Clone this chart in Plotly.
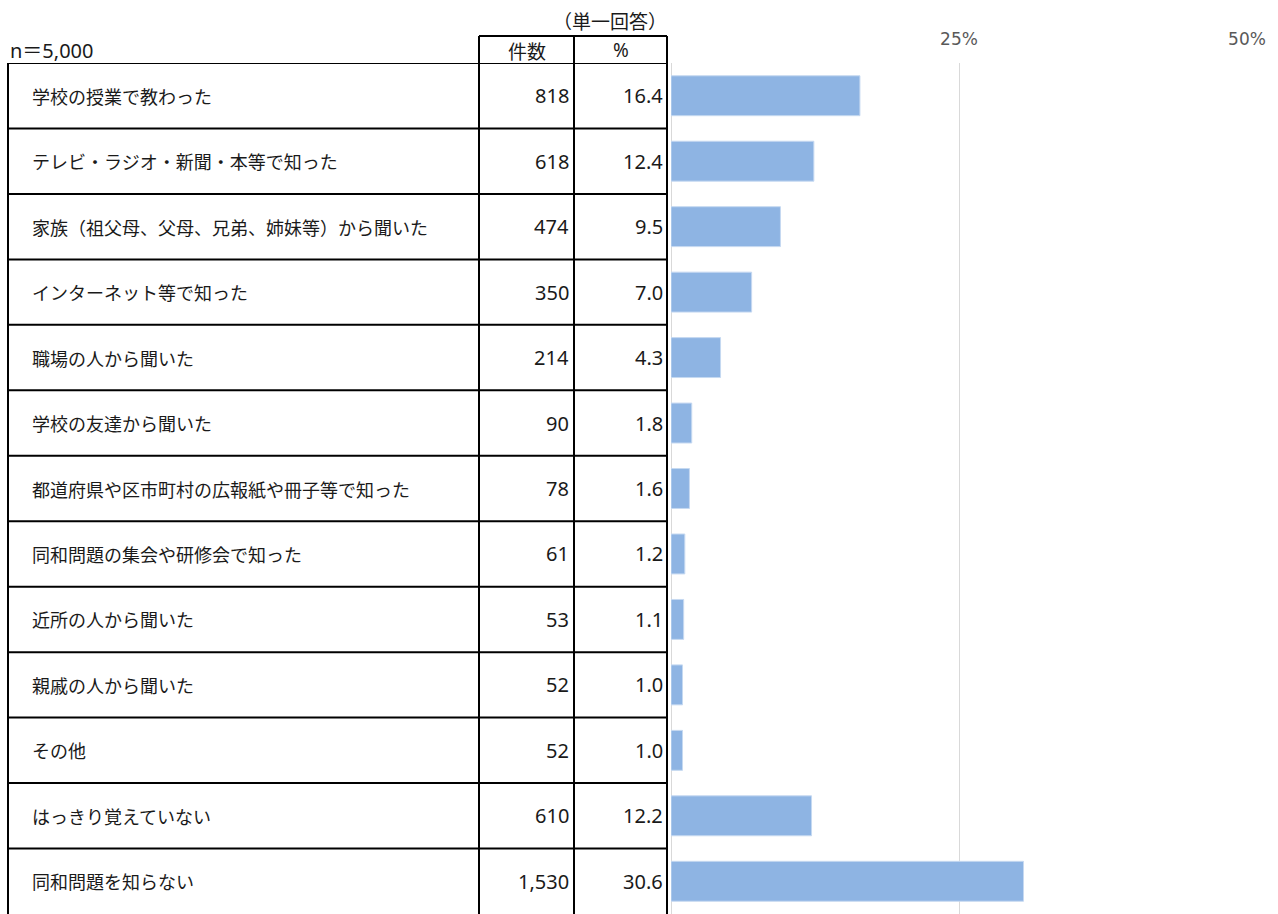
import plotly.graph_objects as go

# data
labels = ["学校の授業で教わった", "テレビ・ラジオ・新聞・本等で知った",
          "家族（祖父母、父母、兄弟、姉妹等）から聞いた", "インターネット等で知った",
          "職場の人から聞いた", "学校の友達から聞いた",
          "都道府県や区市町村の広報紙や冊子等で知った", "同和問題の集会や研修会で知った",
          "近所の人から聞いた", "親戚の人から聞いた", "その他",
          "はっきり覚えていない", "同和問題を知らない"]
counts = ["818", "618", "474", "350", "214", "90", "78", "61", "53", "52", "52", "610", "1,530"]
percents = [16.4, 12.4, 9.5, 7.0, 4.3, 1.8, 1.6, 1.2, 1.1, 1.0, 1.0, 12.2, 30.6]
tick_vals = [25, 50]
tick_text = ["25%", "50%"]

W, H = 1278, 914
JP = "Noto Sans CJK JP, Meiryo, sans-serif"
NUM = "Noto Sans, Noto Sans CJK JP, sans-serif"
TXT = "#1a1a1a"
PLOT_H = 851

def px(x):
    return x / W

def py_above(p):
    # pixels above the top of the plot area -> paper y
    return 1 + p / PLOT_H

# table column edges in pixels
col_left, col_lbl, col_cnt, col_pct = 8, 479, 574, 667

fig = go.Figure()
fig.add_trace(go.Bar(
    x=percents, y=list(range(len(labels))), orientation="h",
    marker=dict(color="#8EB4E3", line=dict(color="#C6D9F1", width=1)),
    width=0.61, hoverinfo="skip"))

shapes = []
n = len(labels)
# horizontal table lines (bottom edge falls just below the page)
for i in range(n):
    shapes.append(dict(type="line", xref="paper", yref="y",
                       x0=px(col_left), x1=px(col_pct), y0=i - 0.5, y1=i - 0.5,
                       line=dict(color="black", width=2)))
# vertical table lines
for c in [col_left, col_lbl, col_cnt, col_pct]:
    shapes.append(dict(type="line", xref="paper", yref="y",
                       x0=px(c), x1=px(c), y0=-0.5, y1=n - 0.5,
                       line=dict(color="black", width=2)))
# header box for 件数 / %
hdr_top = py_above(27)
for c in [col_lbl, col_cnt, col_pct]:
    shapes.append(dict(type="line", xref="paper", yref="paper",
                       x0=px(c), x1=px(c), y0=1, y1=hdr_top,
                       line=dict(color="black", width=2)))
shapes.append(dict(type="line", xref="paper", yref="paper",
                   x0=px(col_lbl), x1=px(col_pct), y0=hdr_top, y1=hdr_top,
                   line=dict(color="black", width=2)))

ann = []
for i, (lab, cnt, pct) in enumerate(zip(labels, counts, percents)):
    ann.append(dict(x=px(30), y=i, xref="paper", yref="y", text=lab, showarrow=False,
                    xanchor="left", yanchor="middle", font=dict(family=JP, size=18, color=TXT)))
    ann.append(dict(x=px(col_cnt - 3), y=i, xref="paper", yref="y", text=cnt, showarrow=False,
                    xanchor="right", yanchor="middle", font=dict(family=NUM, size=20, color=TXT)))
    ann.append(dict(x=px(col_pct - 2), y=i, xref="paper", yref="y", text=f"{pct:.1f}",
                    showarrow=False, xanchor="right", yanchor="middle",
                    font=dict(family=NUM, size=20, color=TXT)))

ann.append(dict(x=px((col_lbl + col_cnt) / 2), y=py_above(13), xref="paper", yref="paper",
                text="件数", showarrow=False, yanchor="middle",
                font=dict(family=JP, size=19, color=TXT)))
ann.append(dict(x=px((col_cnt + col_pct) / 2), y=py_above(13), xref="paper", yref="paper",
                text="%", showarrow=False, yanchor="middle",
                font=dict(family=NUM, size=19, color=TXT)))
ann.append(dict(x=px(8), y=py_above(13), xref="paper", yref="paper", xanchor="left",
                yanchor="middle", text="n＝5,000", showarrow=False,
                font=dict(family=NUM, size=20, color=TXT)))
ann.append(dict(x=px(610), y=py_above(43), xref="paper", yref="paper", yanchor="middle",
                text="（単一回答）", showarrow=False, font=dict(family=JP, size=19, color=TXT)))

fig.update_layout(
    width=W, height=H,
    margin=dict(l=0, r=0, t=63, b=0, autoexpand=False),
    plot_bgcolor="white", paper_bgcolor="white",
    showlegend=False,
    shapes=shapes, annotations=ann,
    xaxis=dict(domain=[px(671), px(1247)], range=[0, 50], side="top",
               tickvals=tick_vals, ticktext=tick_text,
               tickfont=dict(family="DejaVu Sans", size=17, color="#595959"),
               ticklabelstandoff=14,
               showgrid=True, gridcolor="#D9D9D9", gridwidth=1,
               zeroline=True, zerolinecolor="#D9D9D9", zerolinewidth=1,
               showline=False, ticks=""),
    yaxis=dict(range=[n - 0.5, -0.5], showticklabels=False, showgrid=False,
               zeroline=False, showline=False),
)

# page has default body margin; drop it
fix_page = ("document.body.style.margin='0';"
            "document.documentElement.style.overflow='hidden';")
fig.write_html("out.html", post_script=fix_page,
               config={"displayModeBar": False})
